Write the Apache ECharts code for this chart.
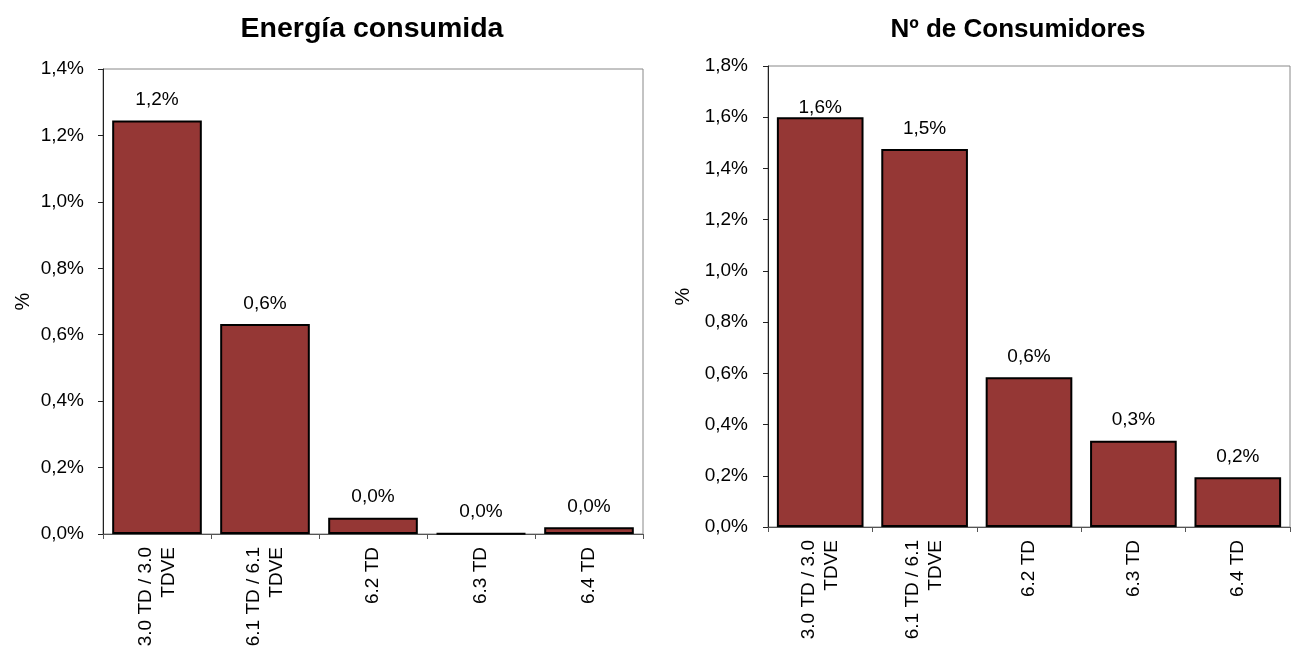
<!DOCTYPE html>
<html><head><meta charset="utf-8">
<script src="https://cdn.jsdelivr.net/npm/echarts@6/dist/echarts.min.js"></script>
<style>html,body{margin:0;padding:0;background:#fff}#c{width:1297px;height:653px}</style>
</head><body><div id="c"></div>
<script>
const categories = ['3.0 TD / 3.0\nTDVE', '6.1 TD / 6.1\nTDVE', '6.2 TD', '6.3 TD', '6.4 TD'];
const energiaValues = [1.245, 0.632, 0.049, 0.002, 0.020];
const consumidoresValues = [1.600, 1.476, 0.585, 0.337, 0.194];
const titles = ['Energía consumida', 'Nº de Consumidores'];
const yMax = [1.4, 1.8];
const yInterval = 0.2;

const FONT = '"Liberation Sans", Arial, sans-serif';
const BAR = '#953735';
const fmt = v => v.toFixed(1).replace('.', ',') + '%';

const grids = [
  {left: 103, top: 69, width: 540, height: 465},
  {left: 768, top: 66, width: 522, height: 461}
];
const titleCenters = [367, 1013];
const titleTops = [10, 12];
const titleSizes = [28.5, 26];
const labelMargins = [19, 20];
const nameGaps = [70, 75];

function mkX(i){
  return {type:'category', gridIndex:i, data:categories,
    axisLine:{show:true, lineStyle:{color:'#555', width:1}},
    axisTick:{show:true, length:5, alignWithLabel:false, lineStyle:{color:'#555'}},
    axisLabel:{rotate:90, fontSize:19, fontFamily:FONT, color:'#000', margin:13, lineHeight:23, interval:0},
    splitLine:{show:false}};
}
function mkY(i){
  return {type:'value', gridIndex:i, min:0, max:yMax[i], interval:yInterval,
    name:'%', nameLocation:'middle', nameRotate:90, nameGap: nameGaps[i],
    nameTextStyle:{fontSize:20, fontFamily:FONT, color:'#000'},
    axisLine:{show:true, lineStyle:{color:'#222', width:1}},
    axisTick:{show:true, length:5, lineStyle:{color:'#222'}},
    axisLabel:{fontSize:19, fontFamily:FONT, color:'#000', margin:labelMargins[i], formatter:fmt},
    splitLine:{show:false}};
}
function mkSeries(i, vals, overrides){
  return {type:'bar', xAxisIndex:i, yAxisIndex:i, barCategoryGap:'17%',
    data: vals.map((v, k) => overrides && overrides[k] ? Object.assign({value:v}, overrides[k]) : v),
    itemStyle:{color:BAR, borderColor:'#000', borderWidth:2},
    label:{show:true, position:'top', distance:11, fontSize:19, fontFamily:FONT, color:'#000', formatter:p=>fmt(p.value)},
    emphasis:{disabled:true}, animation:false};
}

const chart = echarts.init(document.getElementById('c'), null, {renderer:'canvas'});
chart.setOption({
  backgroundColor:'#fff',
  animation:false,
  title: titles.map((t,i)=>({text:t, left:titleCenters[i], top:titleTops[i], textAlign:'center',
    textStyle:{fontSize:titleSizes[i], fontWeight:'bold', fontFamily:FONT, color:'#000'}})),
  grid: grids.map(g=>Object.assign({show:true, borderColor:'#888', borderWidth:1, backgroundColor:'transparent'}, g)),
  xAxis:[mkX(0), mkX(1)],
  yAxis:[mkY(0), mkY(1)],
  series:[
    mkSeries(0, energiaValues),
    mkSeries(1, consumidoresValues, {0:{label:{distance:0}}})
  ]
});
</script></body></html>
